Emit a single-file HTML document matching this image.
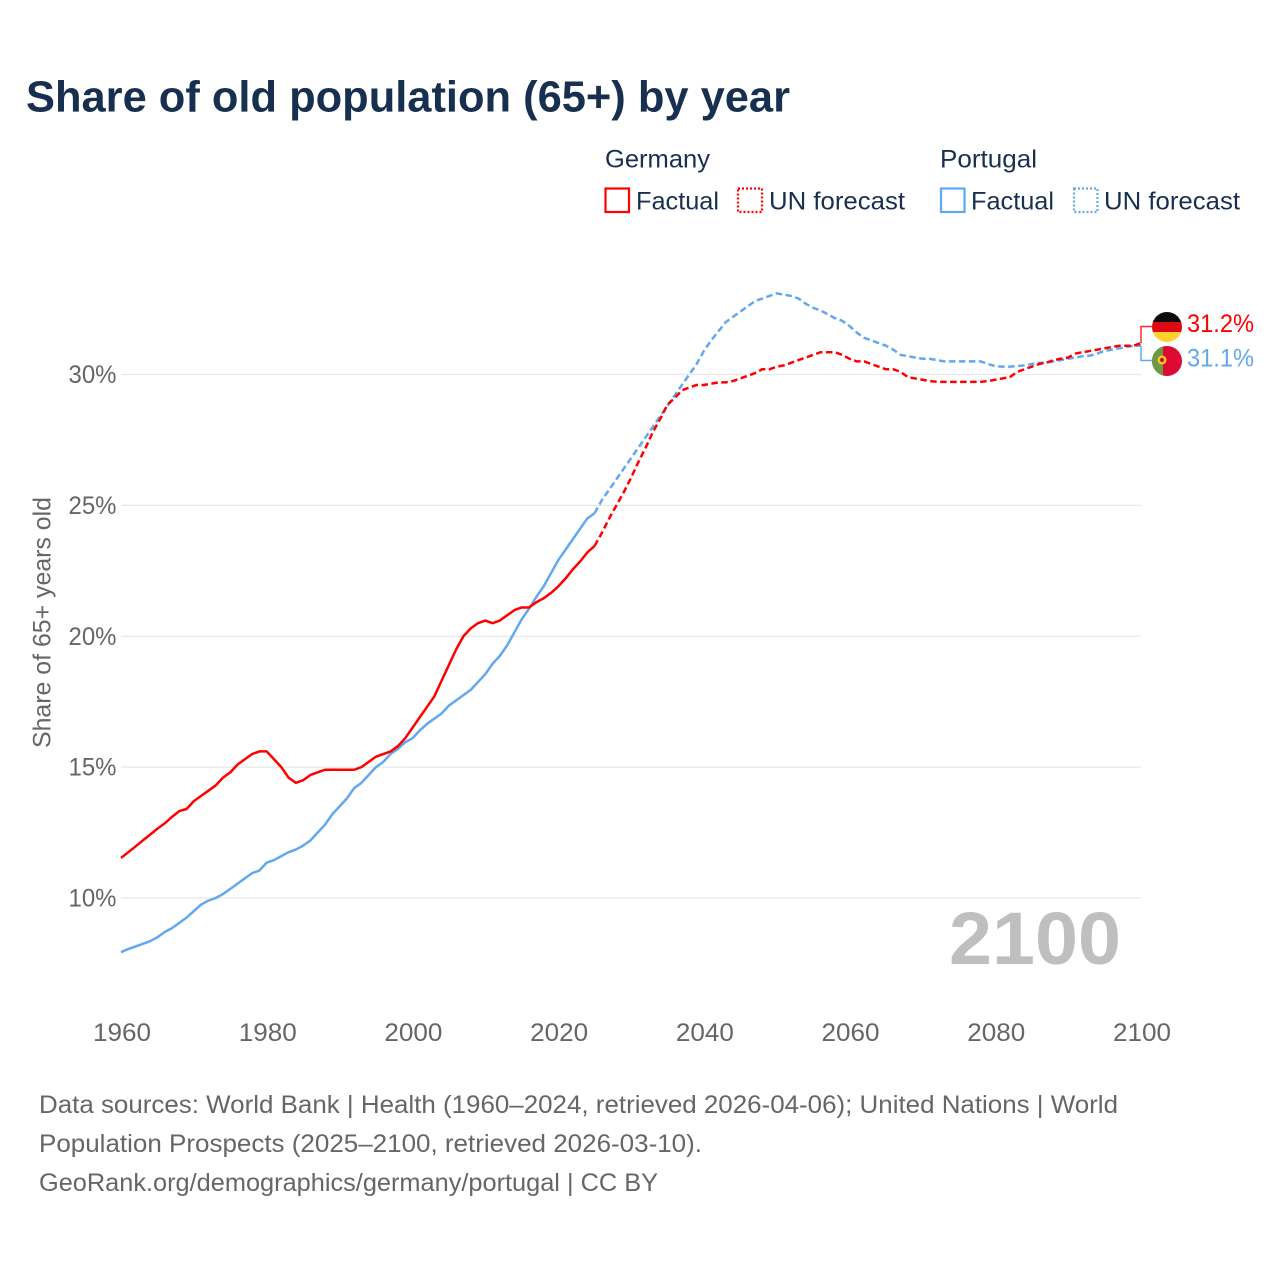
<!DOCTYPE html>
<html lang="en">
<head>
<meta charset="utf-8">
<title>Share of old population (65+) by year</title>
<style>
html,body{margin:0;padding:0;background:#fff;}
svg{display:block;}
text{font-family:"Liberation Sans",sans-serif;}
</style>
</head>
<body>
<svg id="chart" xmlns="http://www.w3.org/2000/svg" width="1280" height="1280" viewBox="0 0 1280 1280">
  <rect width="1280" height="1280" fill="#fff"/>
  <text x="26" y="111.5" font-size="44" font-weight="700" fill="#18304f" textLength="764" lengthAdjust="spacingAndGlyphs">Share of old population (65+) by year</text>

  <g font-size="25" fill="#18304f">
    <text x="605" y="167.5" textLength="105" lengthAdjust="spacingAndGlyphs">Germany</text>
    <rect x="605.5" y="188.5" width="23.5" height="23.5" fill="none" stroke="#ff0000" stroke-width="2.2"/>
    <text x="636" y="209.5" textLength="83" lengthAdjust="spacingAndGlyphs">Factual</text>
    <rect x="738" y="188.5" width="24" height="23.5" fill="none" stroke="#ff0000" stroke-width="2.2" stroke-dasharray="2 2"/>
    <text x="769" y="209.5" textLength="136" lengthAdjust="spacingAndGlyphs">UN forecast</text>
    <text x="940" y="167.5" textLength="97" lengthAdjust="spacingAndGlyphs">Portugal</text>
    <rect x="941" y="188.5" width="23.5" height="23.5" fill="none" stroke="#62a8ee" stroke-width="2.2"/>
    <text x="971" y="209.5" textLength="83" lengthAdjust="spacingAndGlyphs">Factual</text>
    <rect x="1074" y="188.5" width="23.5" height="23.5" fill="none" stroke="#62a8ee" stroke-width="2.2" stroke-dasharray="2 2"/>
    <text x="1104" y="209.5" textLength="136" lengthAdjust="spacingAndGlyphs">UN forecast</text>
  </g>

  <g id="grid"></g>
  <g id="yticks"></g>
  <g id="xticks"></g>

  <text transform="translate(50.5,748) rotate(-90)" font-size="25" fill="#666666" textLength="251" lengthAdjust="spacingAndGlyphs">Share of 65+ years old</text>

  <text x="949" y="964" font-size="74" font-weight="700" fill="#bfbfbf" textLength="172" lengthAdjust="spacingAndGlyphs">2100</text>

  <g id="series"></g>

  <g>
    <path id="connector-germany" fill="none" stroke="#ff2a2a" stroke-width="1.5"/>
    <path id="connector-portugal" fill="none" stroke="#62a8ee" stroke-width="1.5"/>
    <g>
      <clipPath id="clip-de"><circle cx="1167" cy="327" r="15"/></clipPath>
      <g clip-path="url(#clip-de)">
        <rect x="1152" y="312" width="30" height="10" fill="#0c0c0c"/>
        <rect x="1152" y="322" width="30" height="10" fill="#dd0a14"/>
        <rect x="1152" y="332" width="30" height="10" fill="#fbd12e"/>
      </g>
    </g>
    <g>
      <clipPath id="clip-pt"><circle cx="1167" cy="361" r="15"/></clipPath>
      <g clip-path="url(#clip-pt)">
        <rect x="1152" y="346" width="30" height="30" fill="#dd0a34"/>
        <rect x="1152" y="346" width="11" height="30" fill="#6a9a45"/>
        <circle cx="1162" cy="360" r="4.5" fill="#f5d020"/>
        <circle cx="1162" cy="360" r="2.2" fill="#d81030"/>
      </g>
    </g>
    <text x="1187" y="332" font-size="25" fill="#ff0000" textLength="67" lengthAdjust="spacingAndGlyphs">31.2%</text>
    <text x="1187" y="366.5" font-size="25" fill="#62a8ee" textLength="67" lengthAdjust="spacingAndGlyphs">31.1%</text>
  </g>

  <g font-size="25" fill="#666666">
    <text x="39" y="1113" textLength="1079" lengthAdjust="spacingAndGlyphs">Data sources: World Bank | Health (1960–2024, retrieved 2026-04-06); United Nations | World</text>
    <text x="39" y="1152" textLength="663" lengthAdjust="spacingAndGlyphs">Population Prospects (2025–2100, retrieved 2026-03-10).</text>
    <text x="39" y="1191" textLength="619" lengthAdjust="spacingAndGlyphs">GeoRank.org/demographics/germany/portugal | CC BY</text>
  </g>
</svg>
<script>
const yTickValues = [10, 15, 20, 25, 30];
const xTickYears = [1960, 1980, 2000, 2020, 2040, 2060, 2080, 2100];
const factualStartYear = 1960;
const forecastStartYear = 2025;

const germanyFactual = [
  11.53,11.75,11.97,12.2,12.42,12.65,12.85,13.1,13.32,13.4,
  13.7,13.9,14.1,14.3,14.6,14.8,15.1,15.3,15.5,15.6,
  15.6,15.3,15.0,14.6,14.4,14.5,14.7,14.8,14.9,14.9,
  14.9,14.9,14.9,15.0,15.2,15.4,15.5,15.6,15.8,16.1,
  16.5,16.9,17.3,17.7,18.3,18.9,19.5,20.0,20.3,20.5,
  20.6,20.5,20.6,20.8,21.0,21.1,21.1,21.3,21.45,21.65,
  21.9,22.2,22.55,22.85,23.2,23.45
];
const germanyForecast = [
  23.45,23.95,24.5,25.0,25.5,26.05,26.65,27.2,27.8,28.3,
  28.85,29.1,29.4,29.5,29.6,29.6,29.65,29.7,29.7,29.75,
  29.85,29.95,30.05,30.2,30.2,30.3,30.35,30.45,30.55,30.65,
  30.75,30.85,30.85,30.85,30.75,30.6,30.5,30.5,30.4,30.3,
  30.2,30.2,30.1,29.9,29.85,29.8,29.75,29.72,29.72,29.72,
  29.72,29.72,29.72,29.72,29.75,29.8,29.85,29.9,30.1,30.2,
  30.3,30.4,30.45,30.55,30.6,30.65,30.8,30.85,30.9,30.95,
  31.0,31.05,31.1,31.1,31.1,31.2
];
const portugalFactual = [
  7.93,8.05,8.15,8.25,8.35,8.5,8.7,8.85,9.05,9.25,
  9.5,9.75,9.9,10.0,10.15,10.35,10.55,10.75,10.95,11.05,
  11.35,11.45,11.6,11.75,11.85,12.0,12.2,12.5,12.8,13.2,
  13.5,13.8,14.2,14.4,14.7,15.0,15.2,15.5,15.7,15.95,
  16.1,16.4,16.65,16.85,17.05,17.35,17.55,17.75,17.95,18.25,
  18.55,18.95,19.25,19.65,20.15,20.65,21.05,21.5,21.9,22.4,
  22.9,23.3,23.7,24.1,24.5,24.7
];
const portugalForecast = [
  24.7,25.2,25.6,26.0,26.4,26.8,27.2,27.6,28.0,28.4,
  28.8,29.2,29.6,30.0,30.4,30.9,31.3,31.65,32.0,32.2,
  32.4,32.6,32.8,32.9,33.0,33.1,33.05,33.0,32.9,32.7,
  32.55,32.45,32.3,32.15,32.05,31.85,31.6,31.4,31.3,31.2,
  31.1,30.95,30.75,30.7,30.65,30.6,30.6,30.55,30.5,30.5,
  30.5,30.5,30.5,30.5,30.4,30.32,30.3,30.3,30.32,30.35,
  30.4,30.45,30.45,30.5,30.55,30.6,30.65,30.7,30.72,30.8,
  30.9,30.95,31.0,31.05,31.1,31.1
];

const NS = 'http://www.w3.org/2000/svg';
function xScale(year) { return 121 + (year - 1960) * (1141 - 121) / 140; }
function yScale(value) { return 898 - (value - 10) * (898 - 374.5) / 20; }

const gridGroup = document.getElementById('grid');
const yTickGroup = document.getElementById('yticks');
const xTickGroup = document.getElementById('xticks');
const seriesGroup = document.getElementById('series');

yTickValues.forEach(function (v) {
  const line = document.createElementNS(NS, 'line');
  
  
  line.setAttribute('x1', xScale(1960));
  line.setAttribute('x2', xScale(2100));
  line.setAttribute('y1', yScale(v));
  line.setAttribute('y2', yScale(v));
  line.setAttribute('stroke', '#e8e8e8');
  line.setAttribute('stroke-width', '1.3');
  gridGroup.appendChild(line);

  const label = document.createElementNS(NS, 'text');
  
  
  label.setAttribute('x', 68.5);
  label.setAttribute('y', yScale(v) + 8.5);
  label.setAttribute('font-size', '25');
  label.setAttribute('fill', '#666666');
  label.setAttribute('textLength', '48');
  label.setAttribute('lengthAdjust', 'spacingAndGlyphs');
  label.textContent = v + '%';
  yTickGroup.appendChild(label);
});

xTickYears.forEach(function (year) {
  const label = document.createElementNS(NS, 'text');
  
  
  label.setAttribute('x', xScale(year) - 28);
  label.setAttribute('y', 1041);
  label.setAttribute('font-size', '25');
  label.setAttribute('fill', '#666666');
  label.setAttribute('textLength', '58');
  label.setAttribute('lengthAdjust', 'spacingAndGlyphs');
  label.textContent = year;
  xTickGroup.appendChild(label);
});

function pathFrom(values, startYear) {
  return values.map(function (v, i) {
    return (i ? 'L' : 'M') + xScale(startYear + i).toFixed(2) + ' ' + yScale(v).toFixed(2);
  }).join(' ');
}

function addLine(values, startYear, color, dashed, name) {
  const p = document.createElementNS(NS, 'path');
  
  
  p.setAttribute('d', pathFrom(values, startYear));
  p.setAttribute('fill', 'none');
  p.setAttribute('stroke', color);
  p.setAttribute('stroke-width', '2.5');
  p.setAttribute('stroke-linejoin', 'round');
  if (dashed) { p.setAttribute('stroke-dasharray', '6.5 3.5'); }
  seriesGroup.appendChild(p);
}

addLine(portugalFactual, factualStartYear, '#62a8ee', false, 'portugal-factual-line');
addLine(portugalForecast, forecastStartYear, '#62a8ee', true, 'portugal-forecast-line');
addLine(germanyFactual, factualStartYear, '#ff0000', false, 'germany-factual-line');
addLine(germanyForecast, forecastStartYear, '#ff0000', true, 'germany-forecast-line');

const endX = xScale(2100);
document.getElementById('connector-germany').setAttribute('d',
  'M' + endX + ' ' + yScale(germanyForecast[germanyForecast.length - 1]) + ' V326.5 H1152');
document.getElementById('connector-portugal').setAttribute('d',
  'M' + endX + ' ' + yScale(portugalForecast[portugalForecast.length - 1]) + ' V360.5 H1152');
</script>
</body>
</html>
